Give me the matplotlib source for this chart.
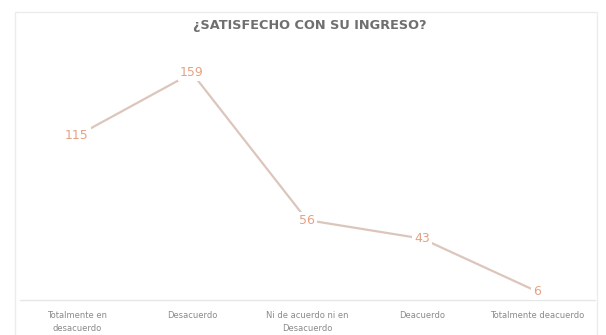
import matplotlib
matplotlib.use("Agg")
import matplotlib.pyplot as plt
from matplotlib.patches import Rectangle

title = "¿SATISFECHO CON SU INGRESO?"
categories = [
    "Totalmente en\ndesacuerdo",
    "Desacuerdo",
    "Ni de acuerdo ni en\nDesacuerdo",
    "Deacuerdo",
    "Totalmente deacuerdo",
]
values = [115, 159, 56, 43, 6]

line_color = "#dcc6bc"
label_color = "#e5a184"
text_gray = "#8a8a8a"

fig = plt.figure(figsize=(6.06, 3.35), dpi=100)
fig.patch.set_facecolor("white")

# light frame around the chart area
fig.add_artist(Rectangle((15 / 606, -0.05), 582 / 606, 1.05 - 12 / 335,
                         transform=fig.transFigure, fill=False,
                         edgecolor="#ececec", linewidth=1.0))

ax = fig.add_axes([19.5 / 606, 35 / 335, 575 / 606, 257 / 335])
x = list(range(len(categories)))
ax.plot(x, values, color=line_color, linewidth=1.6, zorder=2)

for xi, v in zip(x, values):
    ax.text(xi, v, str(v), ha="center", va="center", fontsize=9,
            color=label_color, zorder=3,
            bbox=dict(boxstyle="square,pad=0.15", facecolor="white",
                      edgecolor="none"))

ax.set_xlim(-0.5, len(categories) - 0.5)
ax.set_ylim(0, 180)
ax.set_yticks([])
ax.set_xticks(x)
ax.set_xticklabels(categories, fontsize=6, color=text_gray,
                   linespacing=1.5)
ax.tick_params(axis="x", length=0, pad=8)
for side in ("top", "right", "left"):
    ax.spines[side].set_visible(False)
ax.spines["bottom"].set_color("#e6e6e6")
ax.spines["bottom"].set_linewidth(1.0)

fig.text(310 / 606, 1 - 25 / 335, title, ha="center", va="center",
         fontsize=9.3, fontweight="bold", color="#6f6f6f")

fig.savefig("out.png", dpi=100, facecolor="white")
